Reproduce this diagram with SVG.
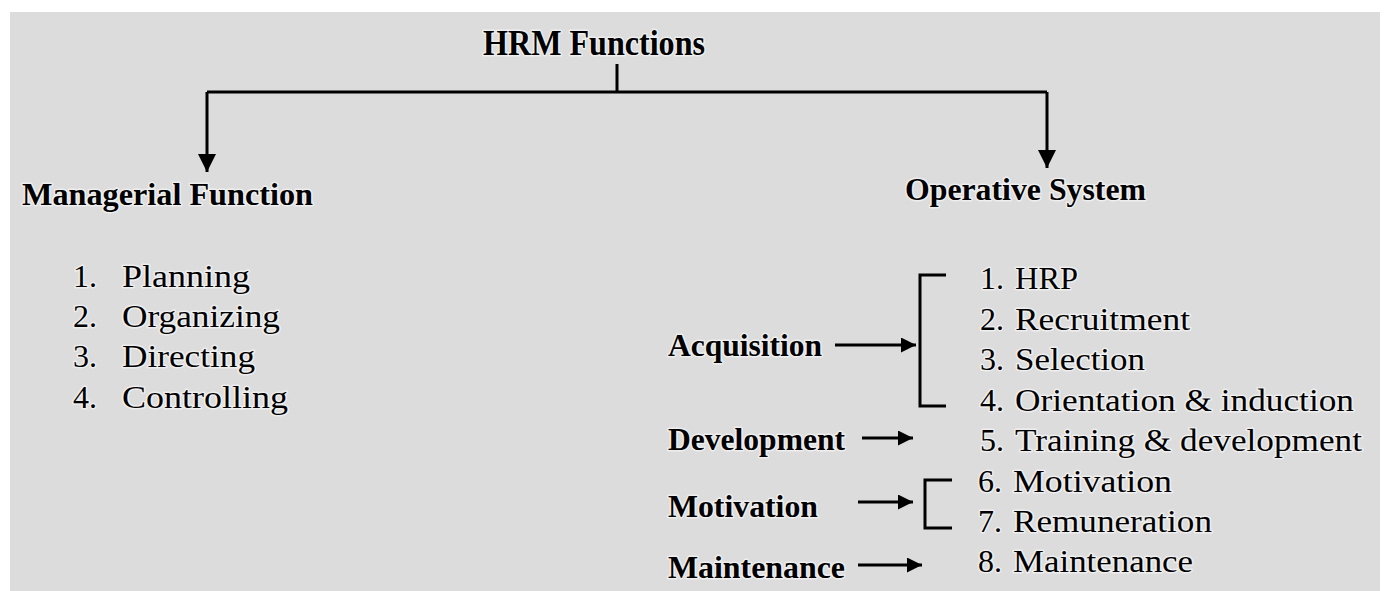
<svg xmlns="http://www.w3.org/2000/svg" width="1385" height="591" viewBox="0 0 1385 591" font-family="'Liberation Serif', 'Times New Roman', Times, serif">
<defs>
<style>
text{font-family:'Liberation Serif','Times New Roman',Times,serif;fill:#000;paint-order:stroke;stroke:#fff;stroke-opacity:0.55;stroke-width:3px;stroke-linejoin:round}
.h{font-weight:bold;font-size:31px}
.l{font-weight:bold;font-size:32px}
.t{font-size:32px}
.c{fill:none;stroke:#000;stroke-width:3}
</style>
<marker id="ad" viewBox="0 0 10 10" refX="10" refY="5" markerWidth="6" markerHeight="6" markerUnits="strokeWidth" orient="auto">
<path d="M0,0 L10,5 L0,10 Z" fill="#000"/>
</marker>
<marker id="ah" viewBox="0 0 10 10" refX="10" refY="5" markerWidth="6" markerHeight="5" markerUnits="strokeWidth" orient="auto">
<path d="M0,0 L10,5 L0,10 Z" fill="#000"/>
</marker>
</defs>
<rect x="0" y="0" width="1385" height="591" fill="#fff"/>
<rect x="10" y="12" width="1370" height="579" fill="#dcdcdc"/>

<g id="connectors">
<path class="c" d="M617,64 V92"/>
<path class="c" d="M207,92 H1047"/>
<path class="c" d="M207,92 V172" marker-end="url(#ad)"/>
<path class="c" d="M1047,92 V168" marker-end="url(#ad)"/>
<path class="c" d="M835,345 H916" marker-end="url(#ah)"/>
<path class="c" d="M862,438 H913" marker-end="url(#ah)"/>
<path class="c" d="M858,502 H913" marker-end="url(#ah)"/>
<path class="c" d="M858,565 H922" marker-end="url(#ah)"/>
<path class="c" d="M946,275 H920 V406 H946"/>
<path class="c" d="M952,480 H925 V528 H952"/>
</g>

<g id="root"><text class="h" x="483" y="55" textLength="222" lengthAdjust="spacingAndGlyphs" style="font-size:36px">HRM Functions</text></g>
<g id="managerial"><text class="h" x="22" y="205" textLength="291" lengthAdjust="spacingAndGlyphs">Managerial Function</text></g>
<g id="operative"><text class="h" x="905" y="200" textLength="241" lengthAdjust="spacingAndGlyphs">Operative System</text></g>

<g id="managerial-list">
<text class="t" x="73" y="287">1.</text><text class="t" x="122" y="287" textLength="128" lengthAdjust="spacingAndGlyphs">Planning</text>
<text class="t" x="73" y="327">2.</text><text class="t" x="122" y="327" textLength="158" lengthAdjust="spacingAndGlyphs">Organizing</text>
<text class="t" x="73" y="367">3.</text><text class="t" x="122" y="367" textLength="133" lengthAdjust="spacingAndGlyphs">Directing</text>
<text class="t" x="73" y="408">4.</text><text class="t" x="122" y="408" textLength="166" lengthAdjust="spacingAndGlyphs">Controlling</text>
</g>

<g id="acquisition"><text class="l" x="668" y="356" textLength="154" lengthAdjust="spacingAndGlyphs">Acquisition</text></g>
<g id="development"><text class="l" x="668" y="450" textLength="177" lengthAdjust="spacingAndGlyphs">Development</text></g>
<g id="motivation"><text class="l" x="668" y="517" textLength="150" lengthAdjust="spacingAndGlyphs">Motivation</text></g>
<g id="maintenance"><text class="l" x="668" y="578" textLength="177" lengthAdjust="spacingAndGlyphs">Maintenance</text></g>

<g id="operative-list">
<text class="t" x="980" y="289">1.</text><text class="t" x="1015" y="289" textLength="63" lengthAdjust="spacingAndGlyphs">HRP</text>
<text class="t" x="980" y="330">2.</text><text class="t" x="1015" y="330" textLength="175" lengthAdjust="spacingAndGlyphs">Recruitment</text>
<text class="t" x="980" y="370">3.</text><text class="t" x="1015" y="370" textLength="130" lengthAdjust="spacingAndGlyphs">Selection</text>
<text class="t" x="980" y="411">4.</text><text class="t" x="1015" y="411" textLength="339" lengthAdjust="spacingAndGlyphs">Orientation &amp; induction</text>
<text class="t" x="980" y="451">5.</text><text class="t" x="1015" y="451" textLength="347" lengthAdjust="spacingAndGlyphs">Training &amp; development</text>
<text class="t" x="978" y="492">6.</text><text class="t" x="1013" y="492" textLength="159" lengthAdjust="spacingAndGlyphs">Motivation</text>
<text class="t" x="978" y="532">7.</text><text class="t" x="1013" y="532" textLength="199" lengthAdjust="spacingAndGlyphs">Remuneration</text>
<text class="t" x="978" y="572">8.</text><text class="t" x="1013" y="572" textLength="180" lengthAdjust="spacingAndGlyphs">Maintenance</text>
</g>
</svg>
